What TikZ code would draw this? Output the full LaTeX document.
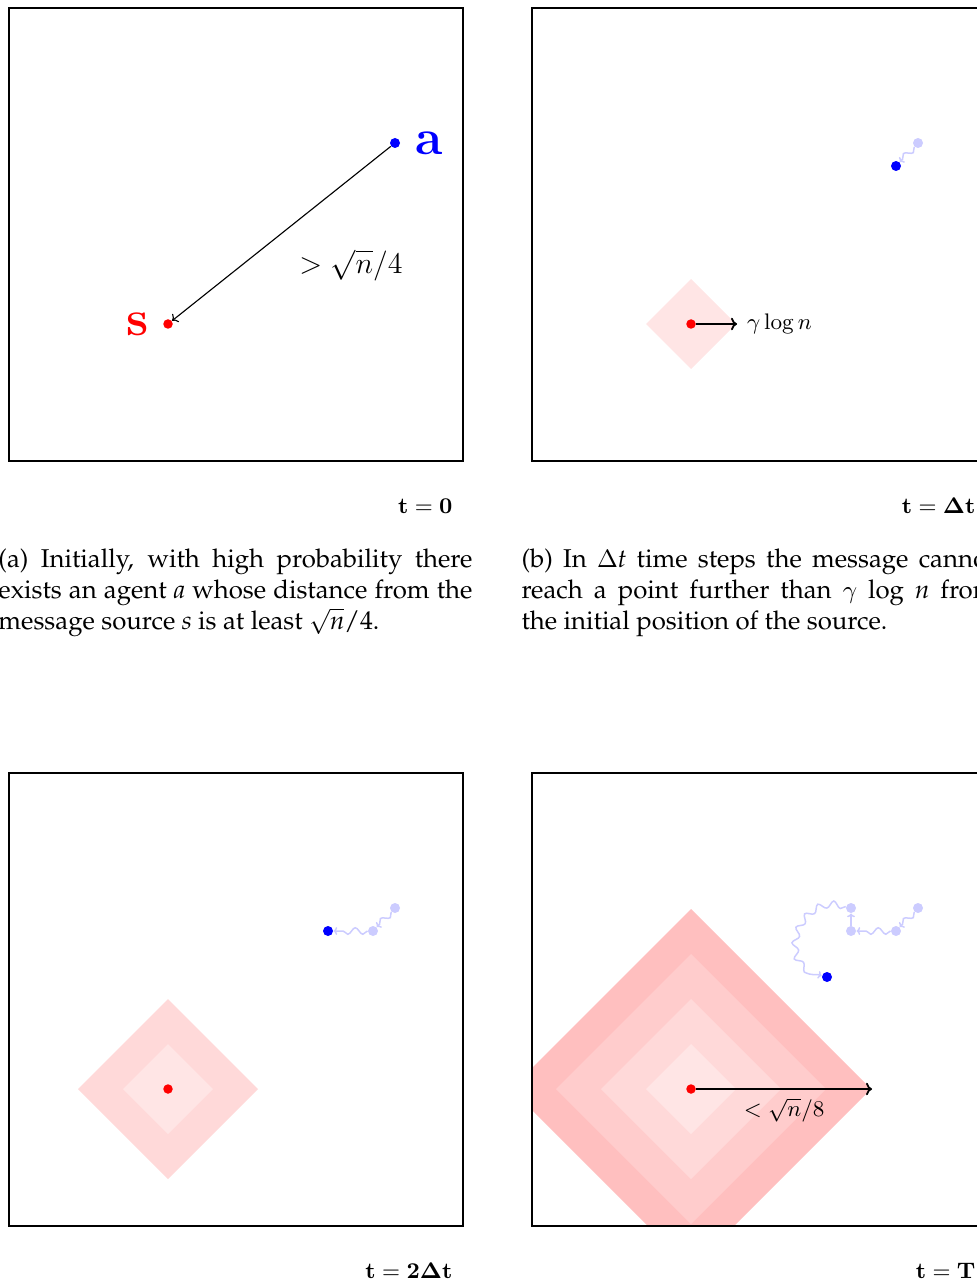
\documentclass[tikz,border=0pt]{standalone}
\usepackage[T1,TU]{fontenc}
\usetikzlibrary{arrows.meta,positioning,decorations.pathmorphing}

\newcommand{\capline}[1]{\makebox[189.6pt][s]{#1}}

\begin{document}
\begin{tikzpicture}[
    x=0.4pt, y=-0.4pt,
    frame/.style={draw, line width=0.8pt},
    src/.style={circle, fill=red, inner sep=0pt, minimum size=3.8pt},
    agent/.style={circle, fill=blue, inner sep=0pt, minimum size=4pt},
    ghost/.style={agent, fill=blue!20},
    walk/.style={draw=blue!20, line width=0.6pt, -{To[length=1.5pt]}, decorate,
        decoration={snake, amplitude=1.3pt, segment length=6pt, post length=1.5pt}},
    dist/.style={-{To[length=2pt]}, line width=0.45pt},
    reach/.style={-{To[length=2.4pt]}, line width=0.7pt},
    ring1/.style={fill=red!10},
    ring2/.style={fill=red!15},
    ring3/.style={fill=red!20},
    ring4/.style={fill=red!25},
    big/.style={font=\fontsize{20}{24}\selectfont\bfseries},
    mlbl/.style={font=\fontsize{9.3}{11}\selectfont},
    tlbl/.style={font=\fontsize{9}{11}\selectfont, anchor=base east, inner sep=0pt},
    captext/.style={inner sep=0pt, anchor=north west, align=left,
        font={\fontsize{10.3}{12.4}\usefont{T1}{ppl}{m}{n}}}
]
\useasboundingbox (0,0) rectangle (977,1284);
\clip (0,0) rectangle (977,1284);

% --- Panel (a): t = 0 ---
\draw[frame] (9,8) rectangle (463,461);
\node[src]   (s0) at (168,324) {};
\node[agent] (a0) at (395,143) {};
\node[big, text=blue, right=2.5pt of a0] (la) {a};
\node[big, text=red, left=2pt of s0]     (ls) {s};
\draw[dist] (a0) -- (s0);
\node[mlbl, font=\fontsize{12}{14}\selectfont] (d0) at (351,265) {$>\sqrt{n}/4$};
\node[tlbl] (t0) at (453,513) {$\mathbf{t=0}$};

% --- Panel (b): t = Delta t ---
\begin{scope}[shift={(523,0)}]
\draw[frame] (9,8) rectangle (463,461);
\fill[ring1] (168,324) +(-45,0) -- +(0,-45) -- +(45,0) -- +(0,45) -- cycle;
\node[src]   (s1) at (168,324) {};
\coordinate  (r1) at (214,324);
\draw[reach] (s1) -- (r1);
\node[mlbl, right=0.5pt of r1] (d1) {$\gamma\log n$};
\node[ghost] (g1a) at (395,143) {};
\node[agent] (a1)  at (373,166) {};
\draw[walk] (g1a) -- (a1);
\node[tlbl] (t1) at (453,513) {$\mathbf{t=\Delta t}$};
\end{scope}

% --- Panel (c): t = 2 Delta t ---
\begin{scope}[shift={(0,765)}]
\draw[frame] (9,8) rectangle (463,461);
\fill[ring2] (168,324) +(-90,0) -- +(0,-90) -- +(90,0) -- +(0,90) -- cycle;
\fill[ring1] (168,324) +(-45,0) -- +(0,-45) -- +(45,0) -- +(0,45) -- cycle;
\node[src]   (s2) at (168,324) {};
\node[ghost] (g2a) at (395,143) {};
\node[ghost] (g2b) at (373,166) {};
\node[agent] (a2)  at (328,166) {};
\draw[walk] (g2a) -- (g2b);
\draw[walk] (g2b) -- (a2);
\node[tlbl] (t2) at (453,513) {$\mathbf{t=2\Delta t}$};
\end{scope}

% --- Panel (d): t = T ---
\begin{scope}[shift={(523,765)}]
\begin{scope}
\clip (9,8) rectangle (463,461);
\fill[ring4] (168,324) +(-180,0) -- +(0,-180) -- +(180,0) -- +(0,180) -- cycle;
\fill[ring3] (168,324) +(-135,0) -- +(0,-135) -- +(135,0) -- +(0,135) -- cycle;
\fill[ring2] (168,324) +(-90,0) -- +(0,-90) -- +(90,0) -- +(0,90) -- cycle;
\fill[ring1] (168,324) +(-45,0) -- +(0,-45) -- +(45,0) -- +(0,45) -- cycle;
\end{scope}
\draw[frame] (9,8) rectangle (463,461);
\node[src]   (s3) at (168,324) {};
\coordinate  (r3) at (349,324);
\draw[reach] (s3) -- node[mlbl, below] (d3) {$<\sqrt{n}/8$} (r3);
\node[ghost] (g3a) at (395,143) {};
\node[ghost] (g3b) at (373,166) {};
\node[ghost] (g3c) at (328,166) {};
\node[ghost] (g3d) at (328,143) {};
\node[agent] (a3)  at (304,212) {};
\draw[walk] (g3a) -- (g3b);
\draw[walk] (g3b) -- (g3c);
\draw[walk] (g3c) -- (g3d);
\draw[walk] (g3d) .. controls (280,130) and (255,200) .. (a3);
\node[tlbl] (t3) at (453,513) {$\mathbf{t=T}$};
\end{scope}

% --- Captions ---
\node[captext] (ca) at (-2,548) {\capline{(a) Initially, with high probability there}\\
\capline{exists an agent \textit{a} whose distance from the}\\
message source \textit{s} is at least \(\sqrt{\mbox{\itshape n}}\)/4.};
\node[captext] (cb) at (521,548) {\capline{(b) In \(\Delta\)\textit{t} time steps the message cannot}\\
\capline{reach a point further than \(\gamma\) log \textit{n} from}\\
the initial position of the source.};

\end{tikzpicture}
\end{document}
